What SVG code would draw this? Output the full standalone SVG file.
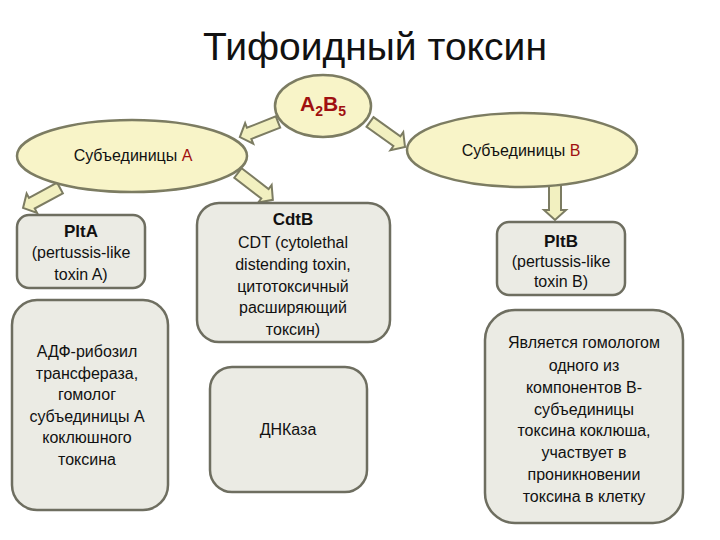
<svg xmlns="http://www.w3.org/2000/svg" width="720" height="540" viewBox="0 0 720 540">
<style>
.t{font-family:"Liberation Sans","Noto Sans",sans-serif;fill:#111;text-anchor:middle}
.b{font-size:16px}
.bold{font-weight:bold}
.red{fill:#a01010}
.ell{fill:#f8f4c8;stroke:#7c7c62;stroke-width:2.5}
.box{fill:#ebebe4;stroke:#6e6e60;stroke-width:2.5}
.arr{fill:#f2f0c0;stroke:#7c7c62;stroke-width:2}
</style>
<rect width="720" height="540" fill="#fff"/>
<text class="t" x="375" y="60" font-size="39" fill="#222">Тифоидный токсин</text>
<g id="connectors">
<polygon class="arr" transform="translate(278,122) rotate(158.5)" points="0,-6 31,-6 31,-11 41,0 31,11 31,6 0,6"/>
<polygon class="arr" transform="translate(370,122) rotate(35.5)" points="0,-6 33,-6 33,-11 43,0 33,11 33,6 0,6"/>
<polygon class="arr" transform="translate(238,173) rotate(37.6)" points="0,-6 34,-6 34,-11 44,0 34,11 34,6 0,6"/>
<polygon class="arr" transform="translate(60,188) rotate(151.6)" points="0,-6 32,-6 32,-11 42,0 32,11 32,6 0,6"/>
<polygon class="arr" transform="translate(555,185) rotate(90)" points="0,-6 25,-6 25,-11 35,0 25,11 25,6 0,6"/>
</g>
<g id="a2b5">
<ellipse class="ell" cx="323" cy="106" rx="48" ry="31"/>
<text class="t bold red" x="323" y="111" font-size="21">A<tspan font-size="14" dy="5">2</tspan><tspan dy="-5">B</tspan><tspan font-size="14" dy="5">5</tspan></text>
</g>
<g id="subA">
<ellipse class="ell" cx="132" cy="156" rx="115" ry="36"/>
<text class="t b" x="133" y="161">Субъединицы <tspan class="red">А</tspan></text>
</g>
<g id="subB">
<ellipse class="ell" cx="522" cy="150" rx="115" ry="37"/>
<text class="t b" x="521" y="156">Субъединицы <tspan class="red">В</tspan></text>
</g>
<g id="pltA">
<rect class="box" x="17" y="215" width="128" height="73" rx="12"/>
<text class="t b" x="81" y="237"><tspan class="bold" font-size="17">PltA</tspan><tspan x="81" y="258">(pertussis-like</tspan><tspan x="81" y="280">toxin A)</tspan></text>
</g>
<g id="adp">
<rect class="box" x="12" y="300" width="156" height="210" rx="25"/>
<text class="t b" x="87" y="357">АДФ-рибозил<tspan x="87" y="379">трансфераза,</tspan><tspan x="87" y="400">гомолог</tspan><tspan x="87" y="422">субъединицы А</tspan><tspan x="87" y="443">коклюшного</tspan><tspan x="87" y="465">токсина</tspan></text>
</g>
<g id="cdtB">
<rect class="box" x="197" y="203" width="193" height="139" rx="22"/>
<text class="t b" x="293" y="225"><tspan class="bold" font-size="17">CdtB</tspan><tspan x="293" y="248">CDT (cytolethal</tspan><tspan x="293" y="270">distending toxin,</tspan><tspan x="293" y="292">цитотоксичный</tspan><tspan x="293" y="313">расширяющий</tspan><tspan x="293" y="335">токсин)</tspan></text>
</g>
<g id="dnase">
<rect class="box" x="210" y="367" width="157" height="125" rx="22"/>
<text class="t b" x="288" y="435">ДНКаза</text>
</g>
<g id="pltB">
<rect class="box" x="497" y="222" width="128" height="73" rx="12"/>
<text class="t b" x="561" y="247"><tspan class="bold" font-size="17">PltB</tspan><tspan x="561" y="267">(pertussis-like</tspan><tspan x="561" y="287">toxin B)</tspan></text>
</g>
<g id="homolog">
<rect class="box" x="485" y="310" width="198" height="213" rx="30"/>
<text class="t b" x="584" y="348">Является гомологом<tspan x="584" y="371">одного из</tspan><tspan x="584" y="393">компонентов В-</tspan><tspan x="584" y="415">субъединицы</tspan><tspan x="584" y="436">токсина коклюша,</tspan><tspan x="584" y="458">участвует в</tspan><tspan x="584" y="480">проникновении</tspan><tspan x="584" y="502">токсина в клетку</tspan></text>
</g>
</svg>
